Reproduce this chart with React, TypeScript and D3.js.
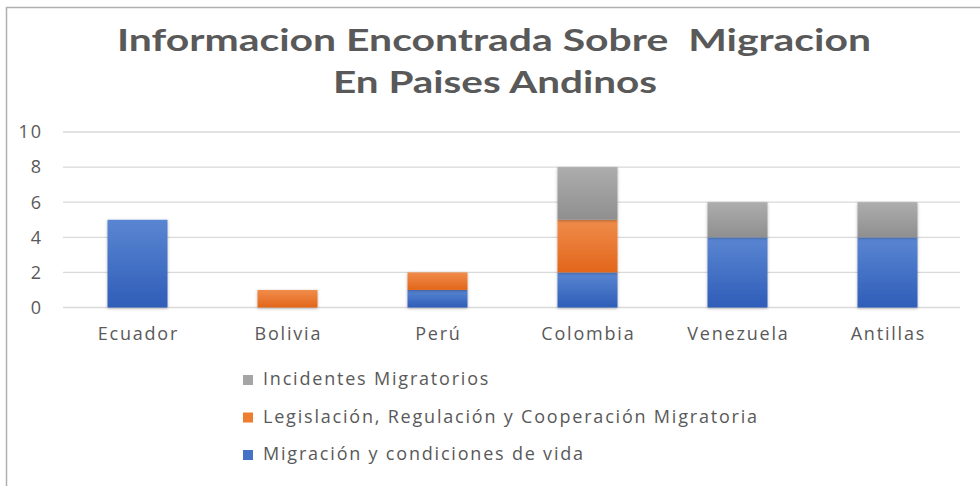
import React from "react";
import * as d3 from "d3";

const categories = ["Ecuador", "Bolivia", "Perú", "Colombia", "Venezuela", "Antillas"];
const migracion = [5, 0, 1, 2, 4, 4];
const legislacion = [0, 1, 1, 3, 0, 0];
const incidentes = [0, 0, 0, 3, 2, 2];
const yTicks = [0, 2, 4, 6, 8, 10];
const seriesNames = [
  "Migración y condiciones de vida",
  "Legislación, Regulación y Cooperación Migratoria",
  "Incidentes Migratorios",
];
const titleLines = ["Informacion Encontrada Sobre  Migracion", "En Paises Andinos"];

const W = 980;
const H = 486;

export default function App() {
  const x = d3.scaleBand().domain(categories).range([62.5, 962.5]).paddingInner(0.6).paddingOuter(0.3);
  const y = d3.scaleLinear().domain([0, 10]).range([307.5, 132]);

  const rows = categories.map((c, i) => ({
    cat: c,
    m: migracion[i],
    l: legislacion[i],
    inc: incidentes[i],
  }));
  const stack = d3.stack<any>().keys(["m", "l", "inc"])(rows);
  const grads = ["gBlue", "gOrange", "gGray"];
  const swatch = ["#4472C4", "#ED7D31", "#A5A5A5"];

  const bw = 60;
  const textColor = "#595959";
  const ls = 1.8;

  return (
    <svg
      width={W}
      height={H}
      style={{ position: "fixed", left: 0, top: 0, background: "#fff" }}
      fontFamily="'Open Sans', sans-serif"
    >
      <defs>
        <linearGradient id="gBlue" x1="0" y1="0" x2="0" y2="1">
          <stop offset="0" stopColor="#5A86D2" />
          <stop offset="1" stopColor="#2F5DB8" />
        </linearGradient>
        <linearGradient id="gOrange" x1="0" y1="0" x2="0" y2="1">
          <stop offset="0" stopColor="#F08C4B" />
          <stop offset="1" stopColor="#E2661B" />
        </linearGradient>
        <linearGradient id="gGray" x1="0" y1="0" x2="0" y2="1">
          <stop offset="0" stopColor="#ADADAD" />
          <stop offset="1" stopColor="#8F8F8F" />
        </linearGradient>
        <filter id="shadow" x="-20%" y="-10%" width="140%" height="130%">
          <feDropShadow dx="0" dy="1" stdDeviation="1.5" floodColor="#000" floodOpacity="0.3" />
        </filter>
      </defs>
      <rect x={0} y={0} width={W} height={H} fill="#fff" />
      {/* frame */}
      <line x1={6} x2={W} y1={7.5} y2={7.5} stroke="#b0b0b0" strokeWidth={1.5} />
      <line x1={6.5} x2={6.5} y1={7} y2={H} stroke="#b0b0b0" strokeWidth={1.5} />

      {/* title */}
      <text x={494} y={51} textAnchor="middle" fontFamily="Lato, sans-serif" fontWeight={700} fontSize={30} fill={textColor} textLength={754} lengthAdjust="spacingAndGlyphs" style={{ whiteSpace: "pre" }}>
        {titleLines[0]}
      </text>
      <text x={495} y={93} textAnchor="middle" fontFamily="Lato, sans-serif" fontWeight={700} fontSize={30} fill={textColor} textLength={324} lengthAdjust="spacingAndGlyphs">
        {titleLines[1]}
      </text>

      {/* gridlines */}
      {yTicks.map((t) => (
        <g key={t}>
          <line x1={63} x2={960} y1={y(t)} y2={y(t)} stroke="#d9d9d9" strokeWidth={1.3} />
          <text x={41 + ls} y={y(t)} dy="0.35em" textAnchor="end" fontSize={18} letterSpacing={ls} fill={textColor}>
            {t}
          </text>
        </g>
      ))}

      {/* bars */}
      {stack.map((s, si) => (
        <g key={si} filter="url(#shadow)">
          {s.map((d, i) => {
            const v = d[1] - d[0];
            if (v <= 0) return null;
            const cx = (x(categories[i]) as number) + x.bandwidth() / 2;
            return (
              <rect
                key={i}
                x={cx - bw / 2}
                y={y(d[1])}
                width={bw}
                height={y(d[0]) - y(d[1])}
                fill={`url(#${grads[si]})`}
              />
            );
          })}
        </g>
      ))}

      {/* category labels */}
      {categories.map((c) => (
        <text key={c} x={(x(c) as number) + x.bandwidth() / 2 + ls / 2} y={334} dy="0.35em" textAnchor="middle" fontSize={18} letterSpacing={ls} fill={textColor}>
          {c}
        </text>
      ))}

      {/* legend */}
      {[2, 1, 0].map((si, row) => (
        <g key={si} transform={`translate(243, ${379 + row * 37.5})`}>
          <rect x={0} y={-4} width={10} height={10} fill={swatch[si]} />
          <text x={20} y={0} dy="0.35em" fontSize={18} letterSpacing={ls} fill={textColor}>
            {seriesNames[si]}
          </text>
        </g>
      ))}
    </svg>
  );
}
